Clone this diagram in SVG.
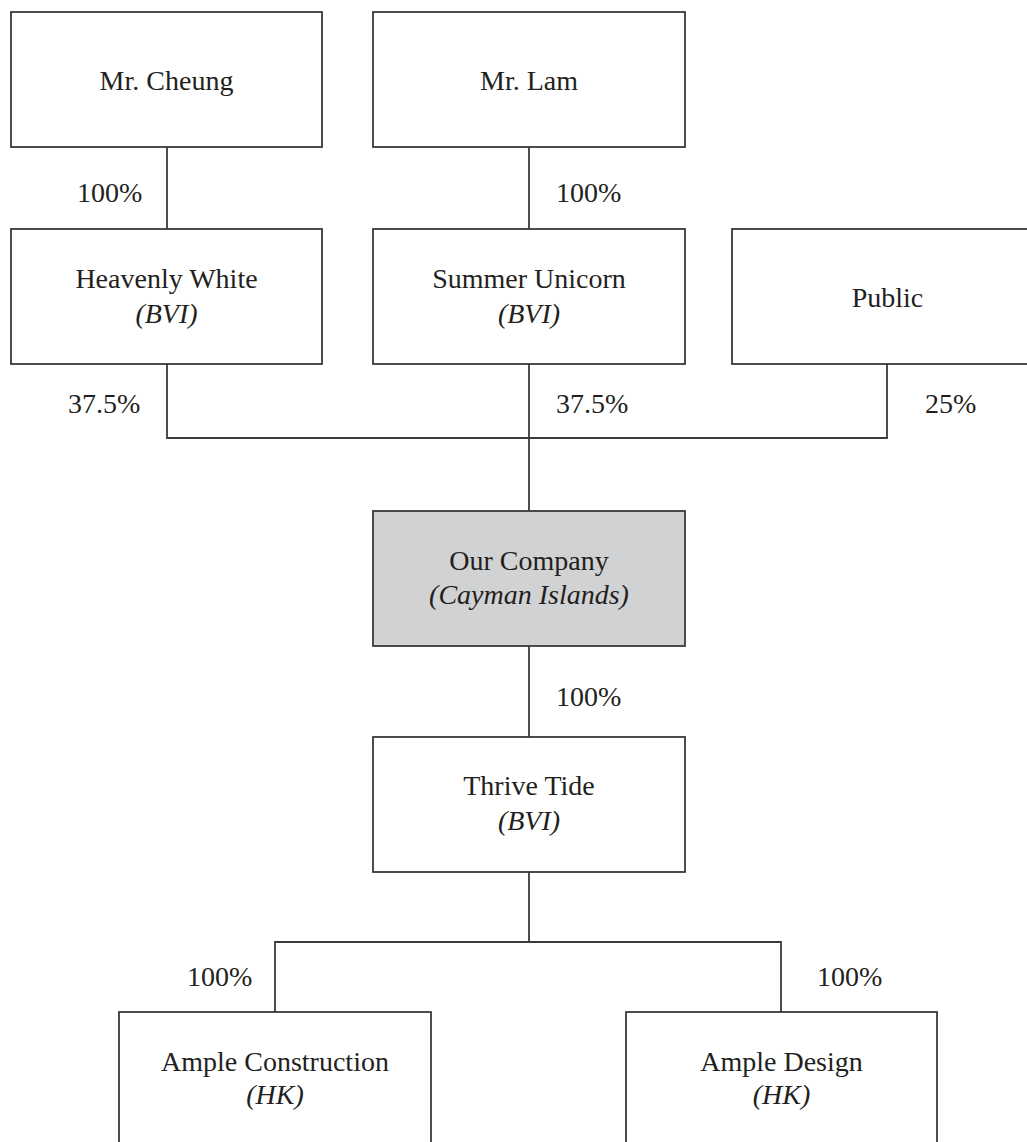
<svg xmlns="http://www.w3.org/2000/svg" width="1027" height="1142" viewBox="0 0 1027 1142">
<style>
.box{fill:#ffffff;stroke:#3a3a3a;stroke-width:1.8}
.hl{fill:#d1d2d4}
.t{font-family:"Liberation Serif","Times New Roman",serif;font-size:28px;fill:#231f20}
.c{text-anchor:middle}
.i{font-style:italic}
.ln{fill:none;stroke:#3a3a3a;stroke-width:1.8}
</style>
<rect width="1027" height="1142" fill="#ffffff"/>
<g id="connectors">
<path class="ln" d="M167 147V229"/>
<path class="ln" d="M529 147V229"/>
<path class="ln" d="M167 364V438H887V364"/>
<path class="ln" d="M529 364V511"/>
<path class="ln" d="M529 646V737"/>
<path class="ln" d="M529 872V942"/>
<path class="ln" d="M275 1012V942H781V1012"/>
<text class="t" x="77" y="202">100%</text>
<text class="t" x="556" y="202">100%</text>
<text class="t" x="68" y="413">37.5%</text>
<text class="t" x="556" y="413">37.5%</text>
<text class="t" x="925" y="413">25%</text>
<text class="t" x="556" y="706">100%</text>
<text class="t" x="187" y="986">100%</text>
<text class="t" x="817" y="986">100%</text>
</g>
<g id="mr-cheung">
<rect class="box" x="11" y="12" width="311" height="135"/>
<text class="t c" x="166.5" y="90">Mr. Cheung</text>
</g>
<g id="mr-lam">
<rect class="box" x="373" y="12" width="312" height="135"/>
<text class="t c" x="529" y="90">Mr. Lam</text>
</g>
<g id="heavenly-white">
<rect class="box" x="11" y="229" width="311" height="135"/>
<text class="t c" x="166.5" y="288">Heavenly White</text>
<text class="t c i" x="166.5" y="323">(BVI)</text>
</g>
<g id="summer-unicorn">
<rect class="box" x="373" y="229" width="312" height="135"/>
<text class="t c" x="529" y="288">Summer Unicorn</text>
<text class="t c i" x="529" y="323">(BVI)</text>
</g>
<g id="public">
<rect class="box" x="732" y="229" width="311" height="135"/>
<text class="t c" x="887.5" y="307">Public</text>
</g>
<g id="our-company">
<rect class="box hl" x="373" y="511" width="312" height="135"/>
<text class="t c" x="529" y="570">Our Company</text>
<text class="t c i" x="529" y="604">(Cayman Islands)</text>
</g>
<g id="thrive-tide">
<rect class="box" x="373" y="737" width="312" height="135"/>
<text class="t c" x="529" y="795">Thrive Tide</text>
<text class="t c i" x="529" y="830">(BVI)</text>
</g>
<g id="ample-construction">
<rect class="box" x="119" y="1012" width="312" height="160"/>
<text class="t c" x="275" y="1071">Ample Construction</text>
<text class="t c i" x="275" y="1104">(HK)</text>
</g>
<g id="ample-design">
<rect class="box" x="626" y="1012" width="311" height="160"/>
<text class="t c" x="781.5" y="1071">Ample Design</text>
<text class="t c i" x="781.5" y="1104">(HK)</text>
</g>
</svg>
